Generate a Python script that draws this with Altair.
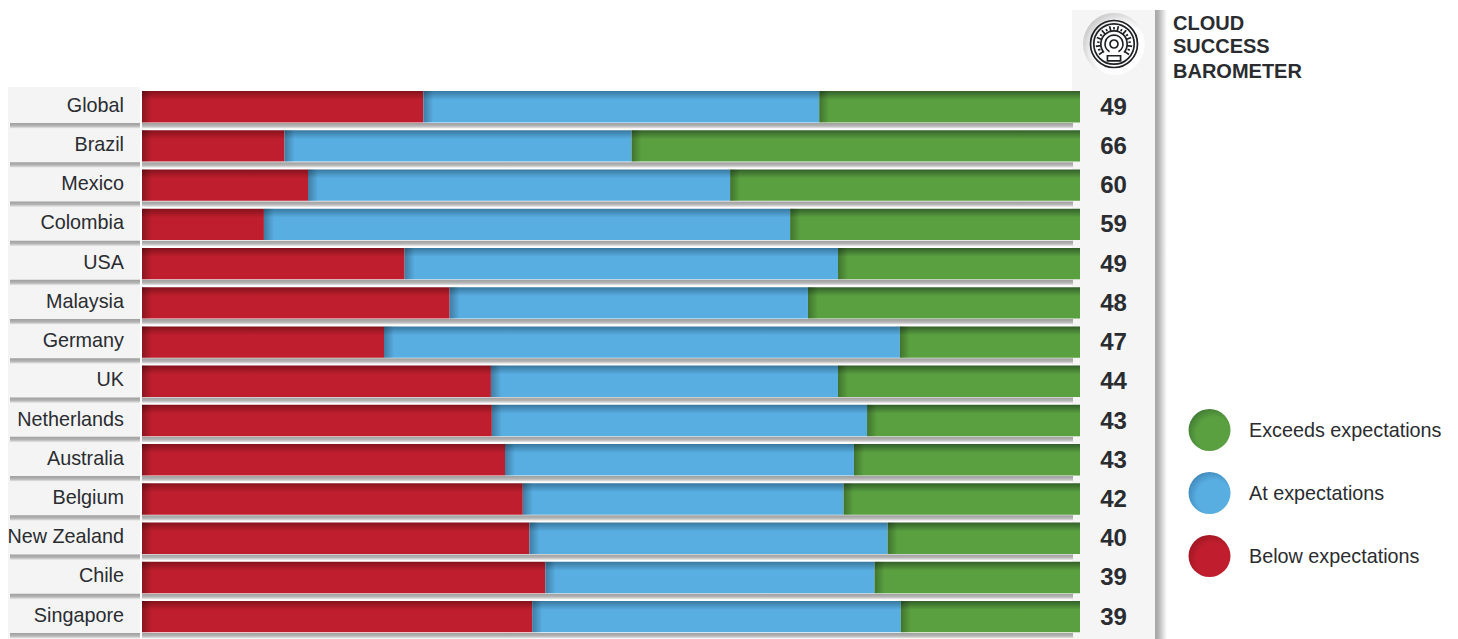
import math
import altair as alt
import pandas as pd

countries = ["Global", "Brazil", "Mexico", "Colombia", "USA", "Malaysia", "Germany", "UK",
             "Netherlands", "Australia", "Belgium", "New Zealand", "Chile", "Singapore"]
below = [30.0, 15.2, 17.7, 13.0, 28.0, 32.8, 25.8, 37.2, 37.3, 38.7, 40.6, 41.3, 43.0, 41.6]
at = [42.2, 37.0, 45.0, 56.1, 46.2, 38.2, 55.0, 37.0, 40.0, 37.2, 34.2, 38.2, 35.1, 39.3]
exceeds = [27.8, 47.8, 37.3, 30.9, 25.8, 29.0, 19.2, 25.8, 22.7, 24.1, 25.2, 20.5, 21.9, 19.1]
barometer = [49, 66, 60, 59, 49, 48, 47, 44, 43, 43, 42, 40, 39, 39]
title_lines = ["CLOUD", "SUCCESS", "BAROMETER"]
legend_labels = ["Exceeds expectations", "At expectations", "Below expectations"]

W, H = 1442, 631
PX_PER_PCT = 9.38
X0 = 134
FONT = "Liberation Sans"
TXT = "#2a2c30"

df = pd.DataFrame({"country": countries, "below": below, "at": at, "exceeds": exceeds, "score": barometer})
df["b0"] = 0.0
df["b1"] = df["below"]
df["a1"] = df["b1"] + df["at"]
df["e1"] = 100.0

xs = alt.Scale(domain=[-X0 / PX_PER_PCT, (W - X0) / PX_PER_PCT], nice=False, zero=False)
STEP = 39.23
ys = alt.Scale(domain=countries, range=[83, 83 + 13.8 * STEP], paddingInner=0.2, paddingOuter=0)
Y = alt.Y("country:N", scale=ys, axis=None, sort=None)
base = alt.Chart(df)


def vgrad(stops):
    return {"gradient": "linear", "x1": 0, "y1": 0, "x2": 0, "y2": 1,
            "stops": [{"offset": o, "color": c} for o, c in stops]}


def hgrad(stops):
    return {"gradient": "linear", "x1": 0, "y1": 0, "x2": 1, "y2": 0,
            "stops": [{"offset": o, "color": c} for o, c in stops]}


def pixel_rect(x0, x1, y0, y1, fill):
    one = alt.Chart(pd.DataFrame({"k": [0]}))
    return one.mark_rect(fill=fill).encode(x=alt.value(x0), x2=alt.value(x1), y=alt.value(y0), y2=alt.value(y1))


layers = [
    pixel_rect(0, 132, 79, H, "#f4f4f5"),
    pixel_rect(1064, 1147, 2, H, "#f5f5f6"),
    pixel_rect(1147, 1159, 2, H, hgrad([(0, "#a6a6a6"), (0.25, "#b0b0b0"), (1, "#ffffff")])),
]

# row drop shadows
shadow = vgrad([(0, "#9f9f9f"), (0.55, "#b4b4b4"), (1, "#ededed")])
for x0, x1 in [(2, 132), (134, 1065)]:
    layers.append(base.mark_bar(height=5.5, yOffset=19, fill=shadow, orient="horizontal").encode(
        x=alt.value(x0), x2=alt.value(x1), y=Y))

# stacked segments
segments = [
    ("b0", "b1", "#84131d", "#be1e2d"),
    ("b1", "a1", "#38789f", "#58ade1"),
    ("a1", "e1", "#33602a", "#5aa040"),
]
for start, end, dark, main in segments:
    layers.append(base.mark_bar(orient="horizontal", fill=vgrad([(0, dark), (0.28, main), (1, main)])).encode(
        x=alt.X(f"{start}:Q", scale=xs, axis=None), x2=f"{end}:Q", y=Y))
    layers.append(base.mark_bar(orient="horizontal", x2Offset=10,
                                fill=hgrad([(0, "rgba(0,0,0,0.28)"), (1, "rgba(0,0,0,0)")])).encode(
        x=alt.X(f"{start}:Q", scale=xs, axis=None), x2=f"{start}:Q", y=Y))

# row labels and barometer values
layers.append(base.mark_text(align="right", baseline="middle", font=FONT, fontSize=19.8, color=TXT, yOffset=-1).encode(
    x=alt.value(116), y=Y, text="country:N"))
layers.append(base.mark_text(align="center", baseline="middle", font=FONT, fontSize=24, fontWeight="bold", color=TXT,
                             yOffset=1).encode(x=alt.value(1105.5), y=Y, text="score:N"))

# title
for line, py in zip(title_lines, [15.7, 39, 63.7]):
    layers.append(alt.Chart(pd.DataFrame({"t": [line]})).mark_text(
        align="left", baseline="middle", font=FONT, fontSize=20, fontWeight="bold", color=TXT).encode(
        x=alt.value(1165), y=alt.value(py), text="t:N"))

# legend
legend_cols = [("#3a6f30", "#5aa040"), ("#3a7dae", "#58ade1"), ("#94141f", "#c01e2e")]
for label, (dark, main), py in zip(legend_labels, legend_cols, [422, 485, 548]):
    one = alt.Chart(pd.DataFrame({"t": [label]}))
    fill = {"gradient": "radial", "x1": 0.6, "y1": 0.6, "r1": 0.1, "x2": 0.6, "y2": 0.6, "r2": 0.72,
            "stops": [{"offset": 0, "color": main}, {"offset": 0.5, "color": main}, {"offset": 1, "color": dark}]}
    layers.append(one.mark_point(filled=True, shape="circle", size=1764, fill=fill, opacity=1).encode(
        x=alt.value(1201.5), y=alt.value(py)))
    layers.append(one.mark_text(align="left", baseline="middle", font=FONT, fontSize=19.8, color=TXT).encode(
        x=alt.value(1241), y=alt.value(py + 1), text="t:N"))


# gauge icon, as unit-circle paths
def circle(r):
    return f"M{-r} 0A{r} {r} 0 1 1 {r} 0A{r} {r} 0 1 1 {-r} 0Z"


def arc(r, a0, a1):
    p0 = (r * math.cos(math.radians(a0)), r * math.sin(math.radians(a0)))
    p1 = (r * math.cos(math.radians(a1)), r * math.sin(math.radians(a1)))
    large = 1 if abs(a1 - a0) > 180 else 0
    return f"M{p0[0]:.3f} {p0[1]:.3f}A{r} {r} 0 {large} 1 {p1[0]:.3f} {p1[1]:.3f}"


ticks = []
for i in range(19):
    a = math.radians(145 + i * 250 / 18)
    r0, r1 = (0.58, 0.78) if i % 2 == 0 else (0.62, 0.72)
    ticks.append(f"M{r0 * math.cos(a):.3f} {r0 * math.sin(a):.3f}L{r1 * math.cos(a):.3f} {r1 * math.sin(a):.3f}")
gauge = (circle(1) + circle(0.86) + circle(0.17) + arc(0.38, 120, 420) + arc(0.56, 140, 400)
         + "".join(ticks) + "M-0.28 0.5H0.28V0.72H-0.28Z")
icon = alt.Chart(pd.DataFrame({"k": [0]}))
disc = {"gradient": "radial", "x1": 0.62, "y1": 0.62, "r1": 0.1, "x2": 0.62, "y2": 0.62, "r2": 0.72,
        "stops": [{"offset": 0, "color": "#ffffff"}, {"offset": 0.55, "color": "#fdfdfd"}, {"offset": 1, "color": "#bdbdbd"}]}
layers.append(icon.mark_point(filled=True, shape="circle", size=3844, fill=disc, opacity=1).encode(
    x=alt.value(1106), y=alt.value(36)))
layers.append(icon.mark_point(shape=gauge, size=2209, filled=False, stroke="#1f2023", strokeWidth=1.7, opacity=1).encode(
    x=alt.value(1106), y=alt.value(36)))

chart = alt.layer(*layers).properties(
    width=W, height=H, padding=0, autosize=alt.AutoSizeParams(type="none"), background="#ffffff"
).configure_view(stroke=None)

chart.save("out.html", embed_options={"renderer": "svg", "actions": False})
